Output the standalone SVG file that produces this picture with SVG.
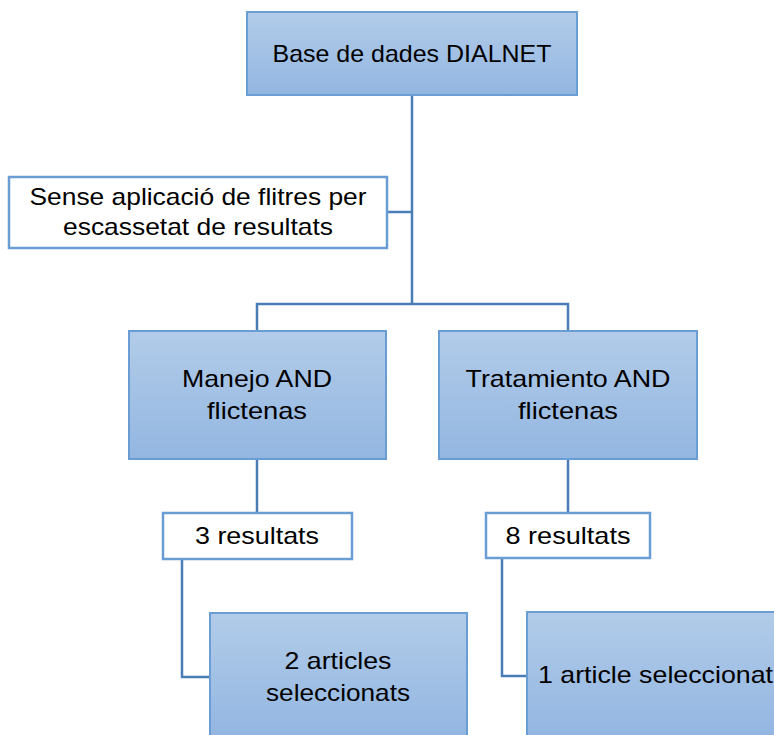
<svg xmlns="http://www.w3.org/2000/svg" width="774" height="735" viewBox="0 0 774 735">
<defs>
<linearGradient id="g" x1="0" y1="0" x2="0" y2="1">
<stop offset="0" stop-color="#b2cce9"/>
<stop offset="1" stop-color="#93b6e1"/>
</linearGradient>
<style>
.box{fill:url(#g);stroke:#6a9dd3;stroke-width:2}
.note{fill:#ffffff;stroke:#6a9dd3;stroke-width:2.5}
.t{font-family:"Liberation Sans",Arial,sans-serif;font-size:24px;fill:#000000}
.c{text-anchor:middle}
.conn{fill:none;stroke:#4a7db5;stroke-width:2.5}
</style>
</defs>
<rect width="774" height="735" fill="#ffffff"/>
<g id="connectors">
<path class="conn" d="M412,95 V304"/>
<path class="conn" d="M387,212 H412"/>
<path class="conn" d="M257,331 V304 H568 V331"/>
<path class="conn" d="M257,459 V513"/>
<path class="conn" d="M568,459 V513"/>
<path class="conn" d="M182,559 V677 H210"/>
<path class="conn" d="M502,558 V676 H527"/>
</g>
<g id="dialnet">
<rect class="box" x="247" y="12" width="330" height="83"/>
<text class="t c" x="412" y="62" textLength="279" lengthAdjust="spacingAndGlyphs">Base de dades DIALNET</text>
</g>
<g id="filtres">
<rect class="note" x="9" y="177" width="378" height="71"/>
<text class="t c" x="198" y="205" textLength="337" lengthAdjust="spacingAndGlyphs">Sense aplicació de flitres per</text>
<text class="t c" x="198" y="235" textLength="270" lengthAdjust="spacingAndGlyphs">escassetat de resultats</text>
</g>
<g id="manejo">
<rect class="box" x="129" y="331" width="257" height="128"/>
<text class="t c" x="257" y="387" textLength="150" lengthAdjust="spacingAndGlyphs">Manejo AND</text>
<text class="t c" x="257" y="419" textLength="100" lengthAdjust="spacingAndGlyphs">flictenas</text>
</g>
<g id="tratamiento">
<rect class="box" x="439" y="331" width="258" height="128"/>
<text class="t c" x="568" y="387" textLength="205" lengthAdjust="spacingAndGlyphs">Tratamiento AND</text>
<text class="t c" x="568" y="419" textLength="100" lengthAdjust="spacingAndGlyphs">flictenas</text>
</g>
<g id="res3">
<rect class="note" x="163" y="513" width="189" height="46"/>
<text class="t c" x="257" y="544" textLength="124" lengthAdjust="spacingAndGlyphs">3 resultats</text>
</g>
<g id="res8">
<rect class="note" x="486" y="513" width="164" height="45"/>
<text class="t c" x="568" y="544" textLength="125" lengthAdjust="spacingAndGlyphs">8 resultats</text>
</g>
<g id="art2">
<rect class="box" x="210" y="613" width="257" height="123"/>
<text class="t c" x="338" y="669" textLength="107" lengthAdjust="spacingAndGlyphs">2 articles</text>
<text class="t c" x="338" y="701" textLength="144" lengthAdjust="spacingAndGlyphs">seleccionats</text>
</g>
<g id="art1">
<rect class="box" x="527" y="612" width="258" height="124"/>
<text class="t" x="538" y="683" textLength="235" lengthAdjust="spacingAndGlyphs">1 article seleccionat</text>
</g>
</svg>
